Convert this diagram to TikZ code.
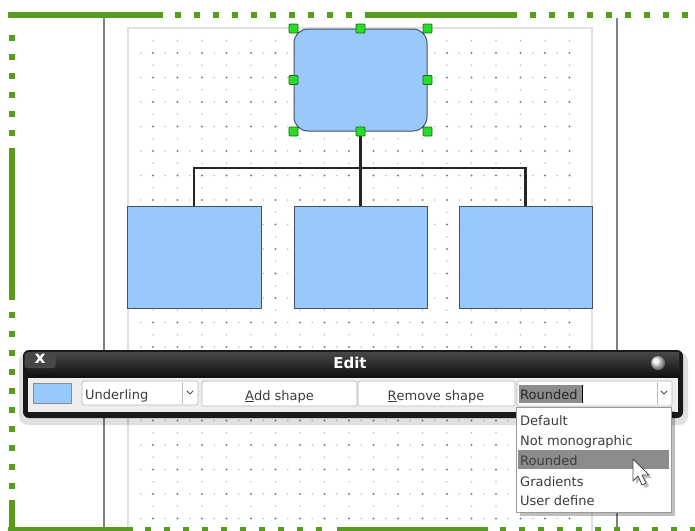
\documentclass[tikz,border=0pt]{standalone}
\usepackage{fontspec}
\setmainfont{DejaVu Sans}
\begin{document}
\begin{tikzpicture}[x=1pt,y=-1pt,
  greenrule/.style={draw=frameColor,line width=6pt},
  greendots/.style={greenrule,dash pattern=on 6pt off 13pt},
  chartbox/.style={draw=boxLine,fill=boxFill,line width=1pt,minimum width=133pt,minimum height=102pt,inner sep=0pt},
  grip/.style={draw=gripLine,fill=gripFill,line width=0.8pt,minimum size=9pt,inner sep=0pt,rounded corners=1pt},
  orgline/.style={draw=black!85,line width=2.4pt},
  widget/.style={draw=black!28,fill=white,line width=0.7pt,rounded corners=1.5pt,inner sep=0pt},
  wtext/.style={text=textColor,anchor=base west,inner sep=0pt,font=\fontsize{13}{15}\selectfont},
  btext/.style={wtext,anchor=base},
  chevron/.style={draw=black!70,line width=1pt,line join=round,line cap=round},
  dotmajor/.style={fill=black!50},
  dotminor/.style={fill=black!25}]
\definecolor{frameColor}{RGB}{88,156,30}
\definecolor{boxFill}{RGB}{152,201,250}
\definecolor{boxLine}{RGB}{70,80,100}
\definecolor{gripFill}{RGB}{40,220,40}
\definecolor{gripLine}{RGB}{25,110,25}
\definecolor{textColor}{RGB}{60,60,60}
\definecolor{panelGray}{RGB}{238,238,236}
\definecolor{selGray}{RGB}{140,140,140}
\path[use as bounding box,fill=white] (0,0) rectangle (695,530);
\begin{scope}
\path[clip] (0,0) rectangle (695,530);

\path[draw=black!50,line width=2pt] (104,18) -- (104,530);
\path[draw=black!50,line width=2pt] (617,18) -- (617,530);
\path[draw=black!12,line width=1.5pt] (128,540) -- (128,28) -- (592,28) -- (592,540);

\foreach \i in {1,...,18}{
  \foreach \j in {1,...,20}{
    \fill[dotmajor] (128.5+24.5*\i, 28.5+24.5*\j) circle (1.1);
    \fill[dotminor] (116.25+24.5*\i, 28.5+24.5*\j) circle (0.8);
    \fill[dotminor] (128.5+24.5*\i, 16.25+24.5*\j) circle (0.8);
  }
}

\node[chartbox,rounded corners=14pt] (root) at (360.5,80) {};
\node[chartbox,minimum width=134pt] (childA) at (194,257) {};
\node[chartbox] (childB) at (360.5,257) {};
\node[chartbox] (childC) at (525.5,257) {};

\coordinate (bus) at (360.5,168);
\path[orgline] (root.south) -- (bus);
\path[orgline] (childA.north) |- (bus) -| (childC.north);
\path[orgline] (bus) -- (childB.north);

\foreach \a [count=\k] in {north west,north,north east,west,east,south west,south,south east}
  \node[grip] (grip\k) at (root.\a) {};

\path[fill=black,opacity=0.12,rounded corners=9pt] (19,352) rectangle (688,425);
\path[fill=black!90,rounded corners=6pt] (23,350) rectangle (683,418);
\path[top color=black!72,bottom color=black!95] (27,352) rectangle (679,378);
\path[fill=panelGray] (28,378) rectangle (678,412);

\node[fill=black!72,rounded corners=2pt,minimum width=31pt,minimum height=15pt,inner sep=0pt] (close) at (40,360.5) {};
\node[text=white,inner sep=0pt,font=\bfseries\fontsize{17}{19}\selectfont] (closex) at (40,359) {x};
\node[text=white,anchor=base,inner sep=0pt,font=\bfseries\fontsize{15}{17}\selectfont] (title) at (350,368) {Edit};
\shade[ball color=black!8] (658,363) circle (7);

\node[draw=black!45,fill=boxFill,minimum width=38pt,minimum height=20pt,inner sep=0pt] (swatch) at (52,393) {};

\node[widget,minimum width=116pt,minimum height=24pt] (kind) at (140,393) {};
\path[draw=black!25,line width=0.7pt] (182,382) -- (182,404);
\path[chevron] (187,391) -- (190,394) -- (193,391);
\node[wtext] (kindtext) at (85,399) {Underling};

\node[widget,minimum width=155pt,minimum height=25pt] (addbtn) at (279.5,393.5) {};
\node[btext] (addtext) at (279.5,400) {\underline{A}dd shape};

\node[widget,minimum width=157pt,minimum height=25pt] (removebtn) at (436.5,393.5) {};
\node[btext] (removetext) at (436,400) {\underline{R}emove shape};

\node[widget,minimum width=155pt,minimum height=25pt] (style) at (594.5,393.5) {};
\path[fill=selGray] (518.5,385) rectangle (582,403);
\node[wtext,text=black!85] (styletext) at (520,399) {Rounded};
\path[draw=black,line width=1.6pt] (582.5,385) -- (582.5,403);
\path[draw=black!25,line width=0.7pt] (657,382) -- (657,405);
\path[chevron] (661,391) -- (664,394) -- (667,391);

\path[fill=black,opacity=0.25] (520,411) rectangle (675,516);
\node[draw=black!40,fill=white,line width=0.7pt,minimum width=155pt,minimum height=105pt,inner sep=0pt] (menu) at (593.5,459.5) {};
\path[fill=selGray] (518,450) rectangle (669,469);
\foreach \txt/\yy [count=\k] in {Default/425,Not monographic/445,Rounded/465,Gradients/486,User define/505}
  \node[wtext] (item\k) at (520,\yy) {\txt};

\begin{scope}[shift={(633,459)}]
\path[fill=black,opacity=0.25] (3,3) -- (3,25) -- (8,20) -- (12,29) -- (16,27) -- (12,19) -- (19,19) -- cycle;
\path[fill=white,draw=black!70,line width=0.8pt,line join=round] (0,0) -- (0,22) -- (5,17) -- (9,26) -- (13,24) -- (9,16) -- (16,16) -- cycle;
\end{scope}

\path[greenrule] (8,15) -- (163,15);
\path[greendots] (175,15) -- (353,15);
\path[greenrule] (365,15) -- (517,15);
\path[greendots] (530,15) -- (695,15);
\path[greendots] (11.5,35) -- (11.5,137);
\path[greenrule] (11.5,148) -- (11.5,300);
\path[greendots] (11.5,312) -- (11.5,490);
\path[greenrule] (11.5,500) -- (11.5,530);
\path[greenrule] (8,529.5) -- (133,529.5);
\path[greendots] (145,529.5) -- (330,529.5);
\path[greenrule] (337,529.5) -- (488,529.5);
\path[greendots] (500,529.5) -- (695,529.5);
\end{scope}
\end{tikzpicture}
\end{document}
